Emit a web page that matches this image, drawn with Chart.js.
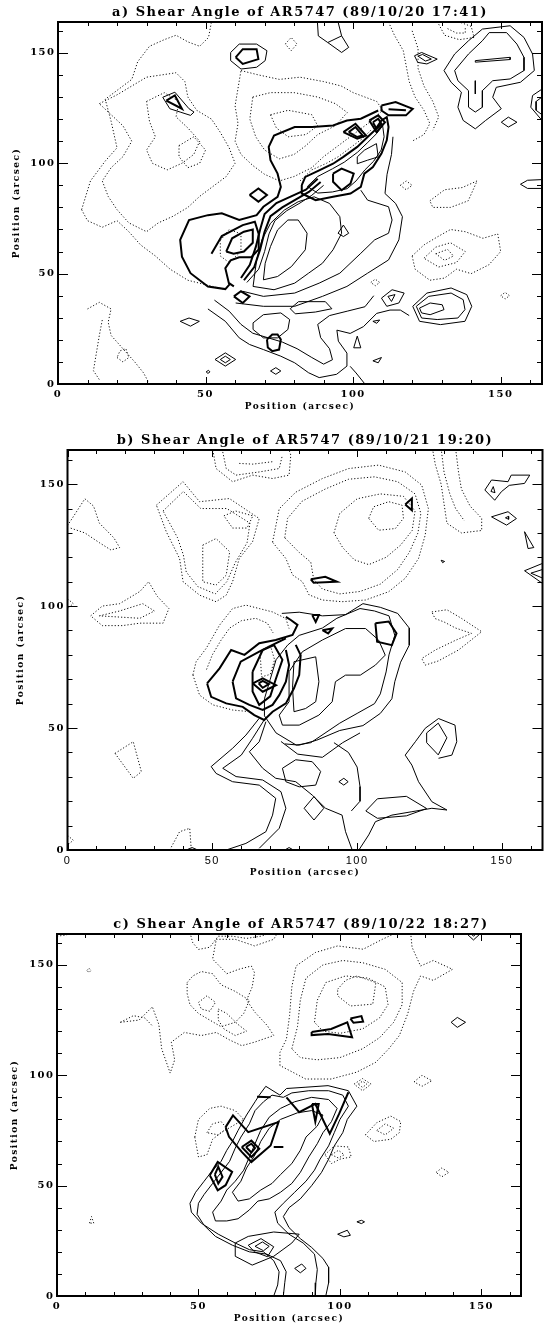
<!DOCTYPE html>
<html>
<head>
<meta charset="utf-8">
<script src="https://cdn.jsdelivr.net/npm/chart.js@4.4.1/dist/chart.umd.min.js"></script>
<style>
  html, body { margin: 0; padding: 0; background: #fff; overflow: hidden; }
  body { width: 544px; height: 1328px; position: relative; }
  canvas { position: absolute; left: 0; }
</style>
</head>
<body>
<canvas id="chartA" width="544" height="420" style="top:0px"></canvas>
<canvas id="chartB" width="544" height="460" style="top:425px"></canvas>
<canvas id="chartC" width="602" height="428" style="top:900px"></canvas>
<script>
// axis setup (arcsec)
var xTicks = [0, 50, 100, 150];
var yTicks = [0, 50, 100, 150];
var axisMax = 164;
var minorStep = 10;

var titles = [
    'a) Shear Angle of AR5747 (89/10/20 17:41)',
    'b) Shear Angle of AR5747 (89/10/21 19:20)',
    'c) Shear Angle of AR5747 (89/10/22 18:27)'
];

// ---- panel a contours, [x, y] in arcsec ----
var aThick = [
    [[58.5,45.7],[56.7,43],[50.8,44.2],[44.9,50.2],[42,57.7],[41.4,65.3],[44.4,74.3],[50.8,76.5],[55.5,77.3],[61.4,74.3],[67.3,76.5],[69.6,80.3],[74.4,84.8],[75.5,89.3],[74.4,95.3],[72,101.4],[71.4,107.4],[73.2,112.6],[80.2,116.4],[86.1,116.4],[93.2,117.1],[97.9,119.4],[102.6,120.2],[108.5,123.9]],
    [[52,59],[55.5,67],[62.6,72],[66.7,73.5],[68,68],[68,61],[65.5,57.4],[61.4,57.4],[58.5,56],[56.7,52.5],[57.9,45.7],[59.6,44.2]],
    [[57,60],[59,66],[63,69],[66,70],[66,64],[63,60],[59.5,59],[57,60]],
    [[62,48],[65,54],[67,62],[68.5,70],[70,77],[74,82],[79,85],[84,88],[88,93]],
    [[63,47],[66.5,53],[68.5,61],[70,69],[72,76],[76,80],[80.5,83.5],[85,87],[89,91.5]],
    [[82.6,90.1],[83.8,93.8],[88.5,96.8],[93.2,99.8],[96.7,102.9],[101.4,107.4],[104.9,111.9],[107.3,114.9],[109.6,119.4],[111.4,120.9],[112,116.4],[111.4,110.4],[109.6,104.4],[106.7,98.3],[103.8,95.3],[102.6,89.3],[99.1,86.3],[93.2,84.8],[87.3,83.3],[82.6,86.3],[82.6,90.1]],
    [[105.5,119.4],[108.5,121.7],[110.8,118.6],[107.9,114.1],[105.5,119.4]],
    [[106.7,118.6],[108.5,120.2],[109.6,117.9],[107.9,115.6],[106.7,118.6]],
    [[96.7,114.1],[100.8,117.9],[104.4,112.6],[101.4,111.1],[96.7,114.1]],
    [[98.5,114.1],[100.8,116.4],[103.2,112.6],[101.4,111.9],[98.5,114.1]],
    [[109.6,126.2],[114.4,127.7],[120.2,124.7],[117.9,121.7],[112,121.7],[109.6,123.9],[109.6,126.2]],
    [[112,124.5],[117.9,124]],
    [[60.2,148],[62.6,151.7],[67.3,151.7],[67.9,147.2],[62.6,145],[60.2,148]],
    [[64.9,85.6],[67.9,88.6],[70.8,85.6],[67.9,82.6],[64.9,85.6]],
    [[59.6,39.7],[62,42],[64.9,39.7],[62.6,36.7],[59.6,39.7]],
    [[70.8,20.2],[72.6,22.4],[74.4,22.4],[75.5,20.2],[74.9,15.6],[72.6,14.9],[71.1,16.5],[70.8,20.2]],
    [[36.7,128.4],[39.6,130.7],[42,124.7],[36.7,128.4]],
    [[93.2,95.3],[96.1,97.6],[100.2,95.3],[99.1,90.8],[96.1,87.8],[93.2,91.6],[93.2,95.3]]
];
var aThin = [
    [[58.5,150.2],[61.4,154],[67.3,154],[70.8,151],[70.2,146.5],[67.3,143.5],[62,142.7],[58.5,146.5],[58.5,150.2]],
    [[87.9,164],[88.2,157.7],[91.4,154.7],[96.1,150.2],[98.5,152.5],[96.1,157.7],[94.9,164]],
    [[91.4,154.7],[96.1,157.7]],
    [[35.5,129.9],[39.6,132.2],[44.4,124.7],[46.1,123.2],[44.9,121.7],[41.4,123.2],[37.9,124.7],[35.5,129.9]],
    [[130.8,142],[134.4,149.5],[139.1,155.5],[143.8,160.8],[153.2,162.3],[157.9,157],[160.8,149.5],[161.4,142],[156.7,136.7],[148.5,134.4],[147.3,129.9],[150.2,124.7],[144.9,119.4],[141.4,115.6],[137.3,119.4],[135.5,125.4],[136.7,132.2],[133.2,136.7],[130.8,142]],
    [[134.4,142],[139.1,149.5],[143.8,155.5],[146.1,159.2],[152,159.2],[155.5,154],[157.9,148],[157.9,142],[153.2,138.2],[147.3,137.4],[143.8,132.9],[143.8,125.4],[141.4,123.2],[139.1,125.4],[139.1,132.9],[135.5,137.4],[134.4,142]],
    [[141.4,146.5],[153.2,148],[153.2,147],[141.4,145.8],[141.4,146.5]],
    [[141.4,137.4],[141.4,131.4]],
    [[120.8,148.7],[123.2,150.2],[128.5,147.2],[125,145],[121.9,145.7],[120.8,148.7]],
    [[122,148.5],[123.5,149.3],[126.5,147.2],[124.5,146.3],[122,148.5]],
    [[164,133.6],[160.8,130.7],[160.2,125.4],[164,119.4]],
    [[164,130],[162,128],[162,124],[164,122]],
    [[150.2,118.6],[152.6,120.9],[155.5,118.6],[152.6,116.4],[150.2,118.6]],
    [[164,92.6],[159.1,92.3],[156.7,90.5],[159.1,88.6],[164,88.6]],
    [[64,46],[68,52],[70,60],[71.5,68],[73.5,74],[77.5,78.5],[82,82],[86,85.5],[90,90]],
    [[84.5,89.5],[88,94],[93,97.5],[97,100.5],[101.5,105],[105,109.5],[108,113.5],[110,117],[110.5,112],[109.5,106],[107,101],[104,97],[101,92],[98,88.5],[93,87],[88,86.5],[84.5,89.5]],
    [[101.4,102.9],[103.8,105.9],[107.9,108.9],[108.5,102.9],[104.9,101.4],[101.4,99.8],[101.4,102.9]],
    [[69.6,47.2],[74.4,48.7],[79.1,53.2],[83.8,60.8],[84.4,68.3],[81.4,74.3],[77.9,74.3],[74.4,69.8],[72,62.3],[70.2,54.7],[69.6,47.2]],
    [[66.1,44.2],[73.2,42.7],[80.2,45.7],[84.9,50.2],[89.6,54.7],[93.2,60.8],[96.1,68.3],[95.5,75.8],[92,81.8],[86.8,84.8],[81.4,82.6],[76.7,78.8],[72,72.8],[69.1,65.3],[67.3,56.2],[66.1,44.2]],
    [[62.6,42],[69.6,39.7],[80.2,41.2],[88.5,45.7],[95.5,50.2],[102.6,59.2],[107.3,65.3],[112,68.3],[113.2,74.3],[112,80.3],[104.9,83.3],[102.6,87.8]],
    [[60.2,36.7],[69.6,35.2],[80.2,35.2],[89.6,39.7],[97.9,44.2],[104.9,50.2],[112,56.2],[115.5,65.3],[116.7,75.8],[114.4,81.8],[110.8,86.3],[111.5,95],[113,104],[113.5,112]],
    [[94.9,68.3],[96.7,72],[98.5,68.3],[96.7,66.8],[94.9,68.3]],
    [[50.8,34],[56.7,28.4],[61.4,20.9],[64.9,17.9],[69.6,15.6],[75.5,12.6],[80.2,9.6],[84.9,5.1],[88.5,2.9],[94.4,4.4],[97.9,8.1],[97.9,14],[95,19.4],[94.5,24.4],[99,22.9],[103.5,26],[108,32],[112.5,33.5],[116,33.5],[119,31]],
    [[53,38],[58,33],[62,27],[66,23],[71,21],[76,19],[81,16],[86,12],[90,9],[93,11],[92,16],[89,21],[88,27],[92,31],[98,33],[104,35],[107,40]],
    [[66.1,27.7],[69.6,31.4],[75.5,32.2],[78.5,29.2],[77.9,24.7],[74.4,20.9],[69.6,20.9],[66.1,24.7],[66.1,27.7]],
    [[78.7,34.1],[81.5,37.3],[90.6,37.3],[92.8,34.1],[87.2,32.6],[80.4,31.8],[78.7,34.1]],
    [[41.4,28.4],[44.4,29.9],[47.9,28.4],[44.9,26.2],[41.4,28.4]],
    [[53.2,11.1],[56.7,14.1],[60.2,11.1],[56.7,8.1],[53.2,11.1]],
    [[55,11.1],[56.7,12.6],[58.4,11.1],[56.7,9.6],[55,11.1]],
    [[50.2,5.5],[51,6.2],[51.5,5.5],[50.8,4.8],[50.2,5.5]],
    [[72,5.9],[73.8,7.4],[75.5,5.9],[73.8,4.4],[72,5.9]],
    [[100.2,16.4],[101.4,21.7],[102.6,16.4],[100.2,16.4]],
    [[106.7,28.4],[109,29],[108,27.5],[106.7,28.4]],
    [[106.7,10.5],[109.6,12],[108.5,9.6],[106.7,10.5]],
    [[99,8],[101,5],[104,0]],
    [[120.2,35.2],[125,41.2],[133.2,43.5],[138.5,40.5],[140.2,35.2],[137.9,28.4],[129.6,26.9],[122.5,28.4],[120.2,35.2]],
    [[121.4,35.2],[125.6,39.7],[133.2,41.2],[137.3,38.2],[137.9,33.7],[135.5,29.9],[128.5,29.2],[123.2,29.9],[121.4,35.2]],
    [[122.5,34.4],[126.1,36.7],[130.2,35.9],[130.8,33.7],[126.1,31.4],[123.2,32.2],[122.5,34.4]],
    [[109.6,38.9],[113.2,42.7],[117.3,41.2],[115.5,36.7],[111.4,35.2],[109.6,38.9]],
    [[111.8,39.7],[114.2,40.5],[113,37.4],[111.8,39.7]]
];
var aDotted = [
    [[8,79],[11,92],[16,101],[20,107],[18,119],[16,129],[21,134],[25,138],[27,146],[31,153],[36,156],[40,158],[44,155],[48,153],[51,157],[52,164]],
    [[8,79],[10,74],[15,71],[20,74],[24,69],[28,63],[33,58],[38,52],[44,47],[50,45],[56,43]],
    [[14,127],[20,131],[25,135],[30,139],[35,140],[40,141],[43,137],[44,130],[47,124],[52,120],[55,114],[58,107],[60,100],[57,94],[53,90],[48,85],[44,80],[39,76],[34,73],[30,69],[24,73],[20,79],[17,85],[15,92],[18,98],[22,103],[25,110],[22,117],[18,122],[14,127]],
    [[30,128],[36,132],[41,128],[40,121],[44,116],[48,110],[46,104],[42,100],[37,97],[32,100],[30,106],[33,112],[31,119],[30,128]],
    [[41,108],[46,112],[50,106],[48,100],[44,98],[41,103],[41,108]],
    [[62,142],[68,140],[75,138],[82,139],[90,137],[96,135],[100,132],[104,130],[108,128],[110,124],[106,119],[100,113],[95,108],[90,103],[86,98],[80,94],[75,92],[70,95],[66,99],[62,104],[60,110],[61,118],[60,126],[61,134],[62,142]],
    [[66,130],[72,132],[80,132],[88,130],[94,127],[98,123],[94,117],[88,113],[84,108],[80,104],[75,102],[70,106],[67,112],[65,120],[66,130]],
    [[72,122],[78,124],[86,122],[88,117],[84,113],[78,112],[74,116],[72,122]],
    [[82,92],[86,97],[91,100],[95,103],[99,107],[103,111],[106,115]],
    [[112,164],[114,158],[117,151],[118,144],[119,137],[121,130],[124,124],[126,118],[124,113],[120,110]],
    [[120,160],[122,152],[122,143],[124,135],[127,128],[129,121],[127,115]],
    [[129,163],[131,158],[136,156],[141,157],[140,162],[136,164]],
    [[132,161],[135,159],[138,159],[138,162]],
    [[77,154],[79,157],[81,154],[79,151],[77,154]],
    [[126,83],[131,88],[137,89],[142,92],[139,83],[133,80],[127,80],[126,83]],
    [[120,58],[124,63],[129,67],[133,70],[138,69],[144,66],[149,68],[150,60],[146,54],[140,50],[135,52],[131,48],[126,47],[121,52],[120,58]],
    [[124,57],[128,62],[133,64],[138,60],[135,55],[129,53],[124,57]],
    [[128,59],[132,61],[134,58],[131,56],[128,59]],
    [[10,34],[14,37],[18,34],[17,28],[18,22],[22,16],[26,10],[29,5],[31,0]],
    [[15,29],[14,22],[13,14],[12,6],[14,2]],
    [[20,12],[22,10],[24,12],[23,16],[21,15],[20,12]],
    [[106,46],[107.5,47.5],[109,46],[107.5,44.5],[106,46]],
    [[150,40],[151.5,41.5],[153,40],[151.5,38.5],[150,40]],
    [[116,90],[118,92],[120,90],[118,88],[116,90]],
    [[55,65],[58,70],[62,68],[62,60],[58,55],[55,58],[55,65]]
];

// ---- panel b contours ----
var bThick = [
    [[48.2,68.3],[52.5,74.5],[56.5,82],[61.1,80],[66.2,84.8],[71.9,86.1],[77.7,88.2],[79.4,92.3],[77.1,94.3],[75.4,95.6]],
    [[48.2,68.3],[49.6,62.8],[54.8,60.1],[60.5,58.7],[64.5,55.3],[67.9,53.3],[70.8,56.7],[75.4,60.1],[78.2,66.3],[80,71.7],[80.5,79.9],[78.8,84.1]],
    [[57,69],[59.8,77.2],[66.2,81.3],[70.8,84.1],[75.4,86.8]],
    [[57,69],[58.2,62.2],[62.8,59.5],[67.4,57.4],[70.8,59.5],[73.1,63.5],[75.4,69],[76.5,75.8],[75.4,82]],
    [[63.9,73.1],[67.4,82],[71.3,84],[74.2,78],[71.9,70],[70,63],[66.2,59.5],[63.9,65],[63.9,73.1]],
    [[64,68.3],[67.4,70.4],[72,67.6],[67.4,64.9],[64,68.3]],
    [[66,68.3],[67.4,69.3],[69.5,68],[67.4,66.5],[66,68.3]],
    [[84.5,96.3],[86.8,96.3],[85.7,93.5],[84.5,96.3]],
    [[88,90.1],[91.4,90.8],[90,88.8],[88,90.1]],
    [[106.3,93],[110.9,93.7],[113.6,88.8],[112,84],[106.9,85.4],[106.3,93]],
    [[84,111],[89,112],[93,110],[85,109.6],[84,111]],
    [[116.6,141.7],[118.9,144.1],[118.9,139.3],[116.6,141.7]]
];
var bThin = [
    [[78.2,77.2],[85.7,79.2],[86.8,69],[85.7,60.8],[82.2,58],[78.2,56.7],[77.7,66.5],[78.2,77.2]],
    [[76.5,73.1],[81.1,81.3],[88,86.1],[96,90.8],[102.9,90.8],[107.4,86.1],[109.7,79.9],[106.3,75.8],[101.1,71.7],[96,71.7],[92.5,69],[91.4,60.8],[86.8,55.3],[80,51.2],[74.2,51.2],[73.1,55.3],[76.5,60.8],[76.5,73.1]],
    [[76,84],[80,88],[88,91],[93,95],[101,99],[106,98],[111,96],[113,88],[111,80],[110,73],[108,64],[106,60],[100,56],[94,52],[84,44],[79,43],[72,48],[68,55],[68,62],[70,70],[72,78],[76,84]],
    [[74,97],[80,97.5],[88,96],[96,96.5],[102,101],[108,99.5],[114,97],[118,91],[118,84],[115,77],[113,69],[112,62],[108,56],[102,51],[94,49],[86,45],[80,43],[75,43.5]],
    [[66.2,54],[61.6,47.1],[57,41.7],[49.6,34.2],[51.3,31.4],[57,28],[66.2,26.6],[71.9,21.2],[70.8,14.3],[68.5,7.5],[61.6,2.7],[54.8,0]],
    [[67.9,53.3],[63.9,45.8],[60,38.9],[53.6,33.5],[58.2,30.1],[67.4,28.7],[73.7,23.9],[75.4,17.1],[73.1,8.9],[66.2,0.7]],
    [[68.5,52.6],[66.2,44.4],[62.8,40.3],[67.4,33.5],[71.9,29.4],[78.8,28],[84.5,22.5],[89.1,17.1],[94.8,14.3],[96,7.5],[98.3,0]],
    [[100.6,0],[104,6.2],[106.3,11.6],[112,14.3],[118.9,15.7],[125.8,17.1],[131,16.4],[125.8,19.8],[121.2,28],[118.9,34.8],[116.6,38.9],[120.1,44.4],[123.5,49.9],[128.1,53.9],[133.8,51.2],[134.4,44.4],[132.7,38.9],[128.1,37.6]],
    [[73.7,44.5],[79.5,39.3],[88,38],[95,44],[101,48]],
    [[92,44],[97,40],[100,34],[101,26],[101,20],[98,16]],
    [[74.2,33.5],[78.8,37],[84.5,36.2],[87.4,32.2],[85.7,26.6],[80,25.9],[75.4,28],[74.2,33.5]],
    [[93.7,28],[95.4,29.4],[96.9,28],[95.4,26.6],[93.7,28]],
    [[81.7,17.1],[85.1,21.9],[88.5,17.1],[85.1,12.3],[81.7,17.1]],
    [[103,16],[107,21],[117,22],[124,17],[117,14],[107,13],[103,16]],
    [[124,48],[128,52],[131,46],[128,39],[124,44],[124,48]],
    [[144.1,147.6],[146.4,151.7],[152.1,151],[153.2,153.7],[159.6,153.7],[157.8,150.3],[152.5,149.5],[149.8,146.9],[147.5,143.4],[144.1,147.6]],
    [[146.2,147],[147,149],[147.6,146.5],[146.2,147]],
    [[146.4,136.6],[152.1,138.7],[155,135.9],[151.6,133.2],[146.4,136.6]],
    [[151.2,136.2],[152.3,136.8],[152.3,135.6],[151.2,136.2]],
    [[157.8,130.5],[159,123.6],[161,124],[157.8,130.5]],
    [[129,118.8],[130.2,118.3],[129.5,117.8],[129,118.8]],
    [[164,117.5],[157.8,114.5],[164,109.3]],
    [[164,115],[160,113.5],[164,111.5]],
    [[41,0],[43,1],[45,0]],
    [[75,0],[76.5,1],[78,0]]
];
var bDotted = [
    [[50.2,164],[51.3,156.4],[57,151],[63.9,153.7],[70.8,152.3],[76.5,153.7],[77.1,161.9],[76.5,164]],
    [[53.6,163.2],[54.8,156.4],[58.2,153.7],[66.2,155],[73.1,156.4],[74.2,161.9]],
    [[59.3,158.5],[64,158.2],[70.8,159.2]],
    [[70.8,126.2],[73.1,139.9],[78.8,146.7],[88,152.3],[97.1,156.4],[107.4,157.8],[116.6,155],[122.3,149.6],[124.6,140],[123.5,129.1],[121.2,119.5],[116.6,111.4],[110.9,105.9],[102.9,102.5],[94.8,101.8],[88,102.5],[83.4,104.6],[81.1,110],[77.7,112.8],[75.4,119.5],[70.8,126.2]],
    [[75,128],[76,136],[81,143],[89,148],[97,152],[106,153],[114,151],[120,146],[122,138],[121,130],[118,122],[114,115],[108,109],[101,106],[94,105],[88,107],[85,111],[84,118],[80,122],[75,128]],
    [[92,130],[94,138],[100,144],[108,146],[116,145],[120,139],[119,131],[115,125],[110,120],[104,117],[99,119],[95,124],[92,130]],
    [[104,136],[105.7,140.7],[110.9,142.8],[115.5,141.4],[116,136],[113.2,131.8],[107.4,131.1],[104,136]],
    [[126,164.6],[127,158],[129,150],[130,142],[131,134],[136,130],[143,131],[143,136],[139,141],[136,148],[135,155],[134,164.6]],
    [[129,164.6],[130,155],[132,146],[134,140],[137,135]],
    [[0,133],[6,144],[9,141],[11,134],[16,128],[18,124],[15,123],[11,126],[6,130],[1,132]],
    [[30.7,141.4],[39.9,151],[45.6,142.8],[55.9,144.1],[66.2,135.9],[63.9,126.4],[59.3,119.5],[57,110],[54.8,104.5],[51.3,101.8],[45.6,104.5],[39.9,110],[38.7,119.5],[34.1,130.5],[30.7,141.4]],
    [[33,139],[40,147],[46,140],[55,140],[63,134],[62,126],[58,118],[55,110],[51,105],[45,108],[41,114],[40,121],[38,128],[33,139]],
    [[46.7,125],[51.3,127.7],[56,122.3],[54.8,112.7],[51.3,108.6],[46.7,110],[46.7,125]],
    [[54,137],[58,139],[64,137],[62,132],[57,132],[54,137]],
    [[8,96],[12,100],[18,101],[25,106],[28,110],[31,104],[35,99],[33,93],[25,93],[19,92],[12,92],[8,96]],
    [[11,96],[18,98],[26,101],[30,98],[25,95],[11,96]],
    [[43.3,71.8],[44.4,77.2],[47.9,82.7],[52.5,92.2],[57,99],[61.6,100.4],[66.2,99],[70.8,97.6],[75.4,94.9],[76.5,90.8]],
    [[43.3,71.8],[45.6,63.5],[50.2,59.5],[57,57.4],[63,56.7]],
    [[48,74],[50,80],[53,86],[56,91],[60,94],[65,95],[69,93],[71,89]],
    [[66.5,81],[70,84],[71.5,78],[70,72],[67,71],[66.5,81]],
    [[125.8,97.6],[131,98.5],[136,95],[143,89.5],[135,82],[128,77.5],[123.5,75.8],[122.3,78.5],[127,82],[134,86],[139.5,88.8],[134,91],[130,93.5],[126.9,94.9],[125.8,97.6]],
    [[16.4,39.6],[22.7,44.4],[25.5,32.1],[22.7,29.4],[16.4,39.6]],
    [[35.3,0],[38.7,7.5],[42.2,8.9],[42.7,0.7]],
    [[0,103],[2,101],[0,99]],
    [[0,6],[2,4],[0,2]]
];

// ---- panel c contours ----
var cThick = [
    [[59.6,76.5],[62.2,81.8],[67.6,74.2],[78.3,78.8],[75.5,68.2],[68.7,60.7],[65.3,65.3],[60.8,72.1],[59.6,76.5]],
    [[65.3,67.5],[68.7,70.4],[71.5,66.7],[68.7,63],[65.3,67.5]],
    [[66.8,67.5],[68.7,69],[70,67],[68.7,65],[66.8,67.5]],
    [[54,54.7],[56.8,60.7],[61.9,56.2],[59.6,50.2],[56.8,47.9],[54,54.7]],
    [[55.8,55],[57,58.5],[58.5,54],[57,51],[55.8,55]],
    [[81.1,90],[85.6,83.3],[91.3,87],[96.4,73.5],[99.7,82.5],[103,92.3]],
    [[90.1,87],[91.3,79],[92.5,87],[90.1,87]],
    [[70.7,90.3],[75.5,90]],
    [[76.6,67.5],[80,67.5]],
    [[90,119.6],[96.9,121],[102.6,124],[104.3,117.2],[95.8,118.7],[90,118.2],[90,119.6]],
    [[103.7,125.7],[107.6,126.8],[108.2,124.3],[104.8,123.8],[103.7,125.7]]
];
var cThin = [
    [[76.6,0],[78,5],[78.5,11],[76.6,16],[73,20],[68,21],[63,24],[57,28],[51,33],[47.5,38],[47,42],[49,47],[52,52],[55,57],[58,61],[60,66],[62,70],[64,75],[67,82],[70,88],[71.5,91],[73.8,95],[78.8,91],[81.1,94],[88,94.6],[95.8,95.3],[103,93],[106,86],[102.6,80],[101,74],[98,68],[96,62],[93.5,56],[90,50],[86,44],[82,40],[80,36],[82,31],[86,26],[90,22],[94,17],[96,13],[96,6],[95,0]],
    [[80,0],[80.5,6],[81,11],[79,16],[74,19],[68,20],[62,23],[56,27],[52,32],[49.5,37],[50,42],[52,46],[55,51],[58,56],[61,61],[63,67],[65,72],[68,78],[70,84],[73,88],[76,91],[80,90],[83,92],[89,93],[96,93],[101,91],[103,86],[100,80],[98,74],[96,68],[93,62],[91,57],[88,52],[84,47],[80,42],[77,38],[78,33],[82,28],[87,24],[91,19],[92,12],[91.5,6],[91.3,0]],
    [[55,38],[58,43],[60,48],[63,52],[66,57],[68,63],[70,69],[72,75],[75,81],[79,85],[84,88],[90,90],[96,89],[99,85],[97,79],[94,74],[92,69],[89,63],[86,56],[83,51],[79,47],[75,44],[71,43],[68,39],[64,35],[60,34],[56,34],[55,38]],
    [[62,47],[65,52],[67,58],[70,64],[72,70],[75,76],[79,80],[85,83],[90,84],[94,82],[92,77],[88,72],[86,66],[83,60],[79,55],[76,51],[72,48],[68,44],[64,43],[62,47]],
    [[67.6,23],[72.1,26],[76.6,22.3],[74.4,17.8],[69.8,20],[67.6,23]],
    [[70,22.5],[72.6,24.5],[75,22.5],[73,20.5],[70,22.5]],
    [[63,24],[67.6,27],[76.6,29],[85.6,28],[83,24],[76.6,18],[69,14],[63,18],[63,24]],
    [[84,12.5],[86.5,14.5],[88,12.5],[86,10.5],[84,12.5]],
    [[99.2,28],[102.6,29.8],[103.7,27.5],[101.4,26.8],[99.2,28]],
    [[106,33.6],[107.6,34.3],[108.7,33.6],[107.6,32.8],[106,33.6]],
    [[139.3,124],[141.5,126.2],[144.4,124],[141.5,121.7],[139.3,124]],
    [[144.4,164.6],[147.2,161.3],[150,164.6]],
    [[146,164.6],[147.2,163],[148.6,164.6]]
];
var cDotted = [
    [[22.4,124],[29,125],[33.7,131],[36,123],[37,112],[40,101],[41.6,107],[40.4,115],[45,119.4],[51,118],[56.3,119.4],[61,116],[65.3,113.4],[69.8,115],[76.6,118],[74.4,122.4],[70,128.5],[67,134],[69,140],[69.8,146.5],[68.7,149.5],[64.2,148],[60,146],[57.4,149.5],[55,152.6],[56.3,161.6],[63,161.6],[69.8,158.6],[76.6,161.6],[78,164.6]],
    [[22.4,124],[27,127],[31,126],[34,122]],
    [[46,142],[48,145],[51,147],[55,146],[58,141],[63,138],[68,134],[66,128],[63,124],[58,122],[54,125],[50,128],[47,132],[46,137],[46,142]],
    [[50,133],[53,136],[56,133],[54,129],[51,130],[50,133]],
    [[57,130],[60,128],[64,123],[67,120],[63,118],[59,121],[57,125],[57,130]],
    [[47,164.6],[48,160],[50,157],[54,158],[57,163],[62,163],[67,162],[72,163],[76,164.6]],
    [[10.6,147.5],[11.3,148.5],[12,147.5],[11.3,146.5],[10.6,147.5]],
    [[11.5,33],[12.2,36],[13,33],[11.5,33]],
    [[78.8,104.4],[78.8,110.4],[81.1,116.4],[82.2,127],[83,140],[84.5,149.5],[91.3,155.6],[99.2,158.6],[108.2,157.1],[115,161.6],[120,164.6]],
    [[125,164.6],[125.5,158],[128.5,149.5],[133,152],[139.8,148],[133,143],[128.5,145],[126,138],[124,128],[121,118],[117.2,111.9],[112.7,105.9],[105.9,101.4],[96.9,98.3],[87.9,98.3],[83.3,101.4],[78.8,104.4]],
    [[83,112],[85,122],[86,134],[88,144],[94,150],[101,152],[108,151],[116,148],[122,142],[122,132],[119,124],[114,117],[108,112],[100,108],[92,107],[86,108],[83,112]],
    [[91,124],[92,134],[95,142],[102,145],[110,144],[116,140],[117,132],[114,126],[108,121],[100,119],[94,120],[91,124]],
    [[99.2,139],[102,143],[106,145],[112.7,142],[111.6,132.2],[103.7,131.4],[99.2,136],[99.2,139]],
    [[126.2,97],[129,100],[132.5,97.5],[129,95],[126.2,97]],
    [[105,96],[108,98.5],[111,96],[108,93],[105,96]],
    [[106.5,96],[108,97.3],[109.5,96],[108,94.5],[106.5,96]],
    [[109,73],[113,78.5],[118,81.5],[121.5,79],[121,74],[118,71],[112,70],[109,73]],
    [[113,75],[116,78],[119,76],[116,73],[113,75]],
    [[94.7,64],[98,68],[103,67.5],[104,63],[100,62],[97,60],[94.7,64]],
    [[97,64],[99.5,66],[101.5,64],[99.5,62.5],[97,64]],
    [[134,56],[136,58],[138.5,56],[136,54],[134,56]],
    [[48.7,72],[50,80],[54,85],[58,86],[63,84],[66,80],[62,77],[58,74],[55,71],[53,64],[50,63],[48.7,72]],
    [[53,74],[55,78],[58,79],[60,76],[57,73],[53,74]],
    [[0,163],[3,163.5],[6,164.6]]
];

function lines(list, width, dash, color) {
    return list.map(function (pts) {
        return {
            data: pts.map(function (p) { return { x: p[0], y: p[1] }; }),
            showLine: true,
            borderColor: color,
            borderWidth: width,
            borderDash: dash,
            pointRadius: 0,
            tension: 0,
            fill: false
        };
    });
}

// IDL style frame with inward ticks on all four sides
var frameTicks = {
    id: 'frameTicks',
    beforeDraw: function (chart) {
        chart.ctx.letterSpacing = '1.5px';
    },
    afterDatasetsDraw: function (chart) {
        var ctx = chart.ctx, a = chart.chartArea;
        var sx = chart.scales.x, sy = chart.scales.y;
        ctx.save();
        ctx.strokeStyle = '#000';
        ctx.lineWidth = 1;
        ctx.beginPath();
        for (var v = 0; v <= axisMax; v += minorStep) {
            var px = Math.round(sx.getPixelForValue(v)) + 0.5;
            var lx = (xTicks.indexOf(v) >= 0) ? 7 : 4;
            ctx.moveTo(px, a.bottom); ctx.lineTo(px, a.bottom - lx);
            ctx.moveTo(px, a.top); ctx.lineTo(px, a.top + lx);
            var py = Math.round(sy.getPixelForValue(v)) + 0.5;
            var ly = (yTicks.indexOf(v) >= 0) ? 10 : 5;
            ctx.moveTo(a.left, py); ctx.lineTo(a.left + ly, py);
            ctx.moveTo(a.right, py); ctx.lineTo(a.right - ly, py);
        }
        ctx.stroke();
        ctx.lineWidth = 2;
        ctx.strokeRect(a.left, a.top, a.right - a.left, a.bottom - a.top);
        ctx.restore();
    }
};

var titleFont = { family: 'DejaVu Serif', size: 13, weight: 'bold' };
var tickFont = { family: 'DejaVu Serif', size: 10, weight: 'bold' };
var axisTitleFont = { family: 'DejaVu Serif', size: 9, weight: 'bold' };

function makeChart(id, title, thin, thick, dotted, g) {
    var scales = {
        x: {
            type: 'linear', min: 0, max: axisMax, position: 'bottom',
            afterBuildTicks: function (s) { s.ticks = xTicks.map(function (v) { return { value: v }; }); },
            afterFit: function (s) { s.height = 28; },
            grid: { display: false, drawTicks: false },
            border: { display: false },
            ticks: { font: g.xTickFont || tickFont, color: '#000', padding: 4.5, maxRotation: 0, autoSkip: false },
            title: { display: true, text: 'Position (arcsec)', font: axisTitleFont, color: '#000', padding: 0 }
        },
        y: {
            type: 'linear', min: 0, max: axisMax, position: 'left',
            afterBuildTicks: function (s) { s.ticks = yTicks.map(function (v) { return { value: v }; }); },
            afterFit: function (s) { s.width = g.left; },
            grid: { display: false, drawTicks: false },
            border: { display: false },
            ticks: { font: tickFont, color: '#000', padding: 2.5, autoSkip: false },
            title: { display: true, text: 'Position (arcsec)', font: axisTitleFont, color: '#000', padding: { top: g.yTitle - 5.4, bottom: 0 } }
        }
    };
    if (g.rightAxis) {
        scales.y2 = {
            type: 'linear', min: 0, max: axisMax, position: 'right',
            afterFit: function (s) { s.width = g.rightAxis; },
            grid: { display: false, drawTicks: false },
            border: { display: false },
            ticks: { display: false }
        };
    }
    return new Chart(document.getElementById(id), {
        type: 'scatter',
        data: {
            datasets: lines(dotted, 1, [1.2, 2], '#111')
                .concat(lines(thin, 1, [], '#000'))
                .concat(lines(thick, 2, [], '#000'))
        },
        options: {
            responsive: false,
            animation: false,
            devicePixelRatio: 1,
            layout: { padding: { left: 0, right: g.padRight, top: 0, bottom: g.padBottom } },
            plugins: {
                legend: { display: false },
                tooltip: { enabled: false },
                title: {
                    display: true, text: title, font: titleFont, color: '#000',
                    fullSize: g.fullTitle, padding: { top: g.titleTop, bottom: 1.2 }
                }
            },
            scales: scales
        },
        plugins: [frameTicks]
    });
}

window.onload = function () {
    makeChart('chartA', titles[0], aThin, aThick, aDotted,
        { left: 58, padRight: 2, padBottom: 8, titleTop: 5.2, yTitle: 17, fullTitle: false });
    makeChart('chartB', titles[1], bThin, bThick, bDotted,
        { left: 67.5, padRight: 1.5, padBottom: 7, titleTop: 8.2, yTitle: 21, fullTitle: false,
          xTickFont: { family: 'Liberation Sans', size: 11, weight: 'normal' } });
    makeChart('chartC', titles[2], cThin, cThick, cDotted,
        { left: 57, padRight: 0, rightAxis: 81, padBottom: 4, titleTop: 17.2, yTitle: 15, fullTitle: true });
};
</script>
</body>
</html>
